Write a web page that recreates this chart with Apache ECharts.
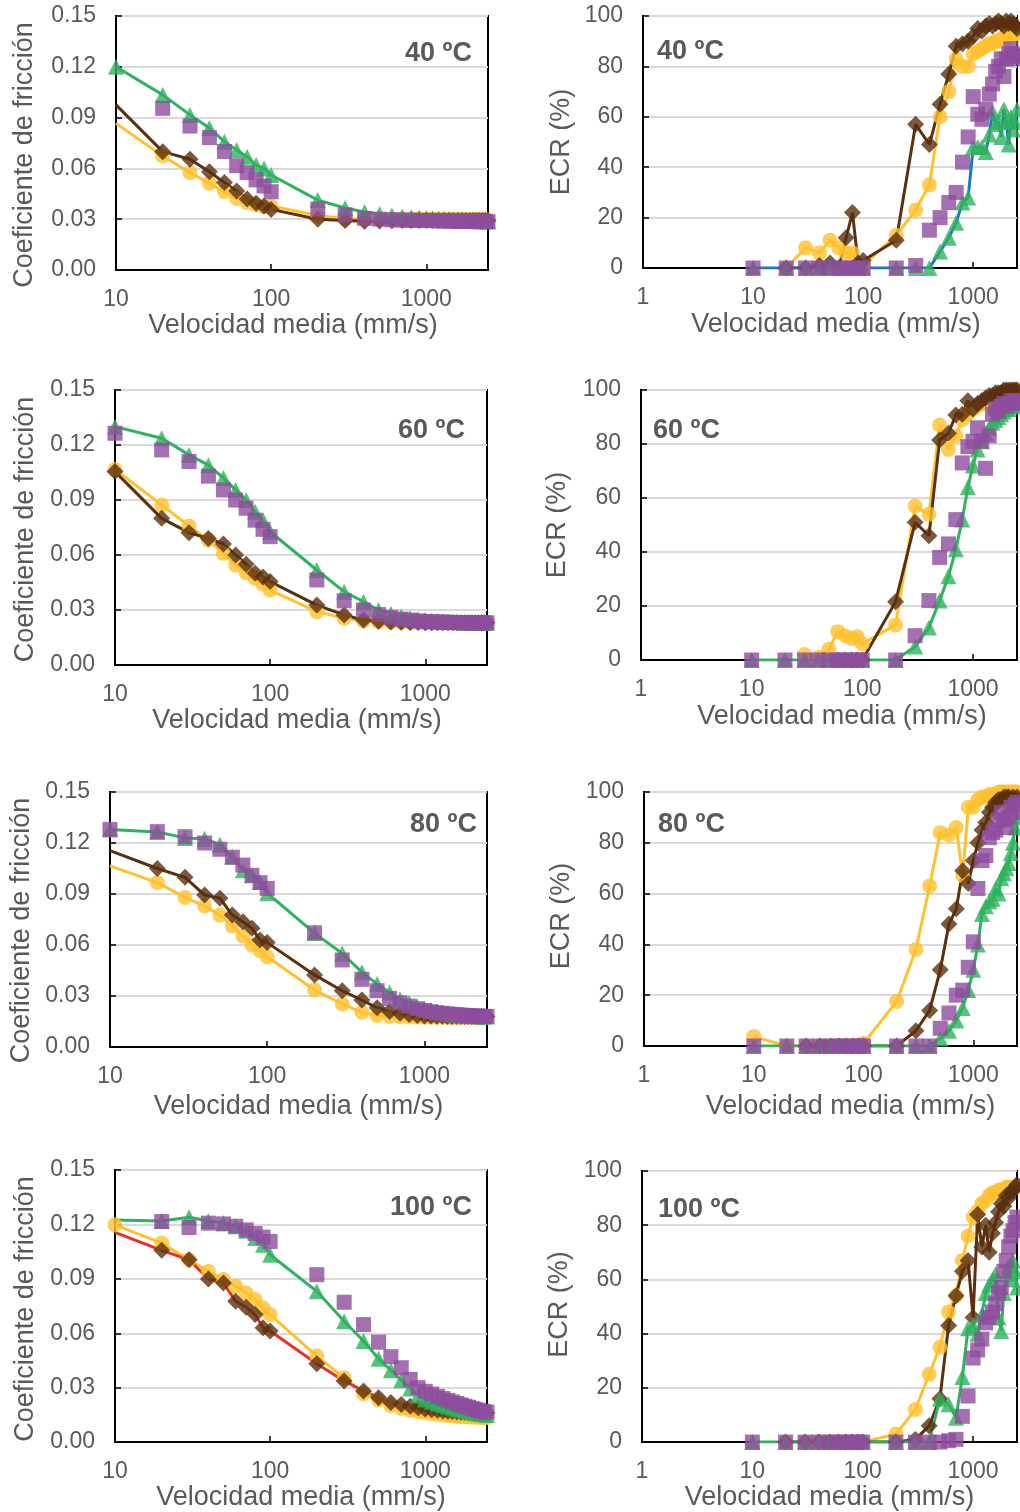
<!DOCTYPE html>
<html>
<head>
<meta charset="utf-8">
<script src="https://cdn.jsdelivr.net/npm/echarts@6/dist/echarts.min.js"></script>
<style>
  html, body { margin: 0; padding: 0; background: #fff; }
  #chart { width: 1020px; height: 1512px; }
</style>
</head>
<body>
<div id="chart"></div>
<script>
// velocidad media (mm/s), eje x comun a todos los paneles
const velocidad = [10, 20, 30, 40, 50, 60, 70, 80, 90, 100,
  200, 300, 400, 500, 600, 700, 800, 900, 1000,
  1100, 1200, 1300, 1400, 1500, 1600, 1700, 1800, 1900, 2000, 2100, 2200, 2300, 2400, 2500];

// coeficiente de friccion
const cf40Amarillo = [0.0866,0.0673,0.0575,0.0512,0.0463,0.0423,0.0398,0.0384,0.0374,0.0378, 0.0322,0.0302,0.0300,0.0301,0.0302,0.0302,0.0302,0.0302,0.0301, 0.0301,0.0300,0.0300,0.0300,0.0299,0.0299,0.0299,0.0298,0.0298,0.0298,0.0298,0.0297,0.0297,0.0297,0.0297];
const cf40Marron = [0.0975,0.0699,0.0654,0.0580,0.0516,0.0467,0.0419,0.0394,0.0378,0.0358, 0.0300,0.0292,0.0288,0.0290,0.0291,0.0292,0.0293,0.0293,0.0294, 0.0294,0.0294,0.0294,0.0294,0.0293,0.0293,0.0293,0.0293,0.0293,0.0292,0.0292,0.0292,0.0292,0.0292,0.0292];
const cf40Verde = [0.1200,0.1034,0.0916,0.0838,0.0758,0.0709,0.0669,0.0620,0.0600,0.0561, 0.0413,0.0366,0.0342,0.0330,0.0322,0.0316,0.0312,0.0309,0.0306, 0.0304,0.0302,0.0300,0.0299,0.0298,0.0297,0.0296,0.0295,0.0294,0.0293,0.0292,0.0291,0.0290,0.0289,0.0288];
const cf40Morado = [null,0.0955,0.0850,0.0782,0.0700,0.0616,0.0575,0.0532,0.0496,0.0462, 0.0360,0.0325,0.0305,0.0300,0.0297,0.0295,0.0294,0.0293,0.0292, 0.0291,0.0290,0.0290,0.0289,0.0289,0.0288,0.0288,0.0287,0.0287,0.0286,0.0286,0.0285,0.0285,0.0285,0.0285];

const cf60Amarillo = [0.1067,0.0873,0.0758,0.0682,0.0609,0.0545,0.0504,0.0473,0.0442,0.0409, 0.0291,0.0255,0.0240,0.0236,0.0234,0.0233,0.0232,0.0232,0.0231, 0.0231,0.0231,0.0230,0.0230,0.0230,0.0230,0.0230,0.0230,0.0230,0.0230,0.0230,0.0230,0.0230,0.0230,0.0230];
const cf60Marron = [0.1055,0.0800,0.0722,0.0690,0.0660,0.0600,0.0550,0.0500,0.0480,0.0455, 0.0327,0.0273,0.0245,0.0238,0.0235,0.0233,0.0232,0.0232,0.0231, 0.0231,0.0231,0.0230,0.0230,0.0230,0.0230,0.0230,0.0230,0.0230,0.0230,0.0230,0.0230,0.0230,0.0230,0.0230];
const cf60Verde = [0.1300,0.1237,0.1146,0.1090,0.1020,0.0955,0.0900,0.0836,0.0790,0.0727, 0.0518,0.0400,0.0345,0.0300,0.0280,0.0265,0.0255,0.0250,0.0245, 0.0242,0.0240,0.0238,0.0236,0.0235,0.0234,0.0233,0.0232,0.0231,0.0231,0.0230,0.0230,0.0230,0.0230,0.0230];
const cf60Morado = [0.1264,0.1173,0.1110,0.1030,0.0955,0.0900,0.0855,0.0790,0.0740,0.0700, 0.0464,0.0350,0.0300,0.0275,0.0260,0.0250,0.0245,0.0240,0.0238, 0.0236,0.0235,0.0234,0.0233,0.0232,0.0232,0.0231,0.0231,0.0230,0.0230,0.0230,0.0230,0.0230,0.0230,0.0230];

const cf80Amarillo = [0.1065,0.0967,0.0880,0.0829,0.0776,0.0712,0.0653,0.0600,0.0567,0.0531, 0.0335,0.0253,0.0204,0.0185,0.0180,0.0178,0.0177,0.0176,0.0176, 0.0175,0.0175,0.0175,0.0175,0.0175,0.0175,0.0175,0.0175,0.0175,0.0175,0.0175,0.0175,0.0175,0.0175,0.0175];
const cf80Marron = [0.1155,0.1050,0.0998,0.0894,0.0875,0.0776,0.0737,0.0698,0.0629,0.0614, 0.0424,0.0331,0.0276,0.0231,0.0209,0.0198,0.0191,0.0186,0.0183, 0.0182,0.0181,0.0181,0.0180,0.0180,0.0180,0.0180,0.0180,0.0180,0.0180,0.0180,0.0180,0.0180,0.0180,0.0180];
const cf80Verde = [0.1280,0.1265,0.1230,0.1225,0.1190,0.1120,0.1040,0.1010,0.0970,0.0905, 0.0670,0.0550,0.0440,0.0370,0.0320,0.0280,0.0260,0.0240,0.0225, 0.0215,0.0208,0.0202,0.0197,0.0193,0.0190,0.0188,0.0186,0.0184,0.0183,0.0182,0.0181,0.0180,0.0180,0.0180];
const cf80Morado = [0.1280,0.1267,0.1237,0.1200,0.1163,0.1116,0.1070,0.1010,0.0967,0.0933, 0.0672,0.0512,0.0398,0.0331,0.0286,0.0260,0.0240,0.0225,0.0215, 0.0208,0.0202,0.0198,0.0195,0.0192,0.0190,0.0188,0.0186,0.0184,0.0183,0.0182,0.0181,0.0180,0.0180,0.0180];

const cf100Amarillo = [0.1198,0.1097,0.1005,0.0941,0.0896,0.0859,0.0822,0.0786,0.0740,0.0703, 0.0474,0.0355,0.0267,0.0232,0.0201,0.0185,0.0175,0.0168,0.0162, 0.0157,0.0153,0.0150,0.0147,0.0145,0.0143,0.0141,0.0140,0.0139,0.0138,0.0137,0.0137,0.0136,0.0136,0.0135];
const cf100Marron = [0.1156,0.1057,0.1005,0.0899,0.0877,0.0776,0.0744,0.0703,0.0630,0.0612, 0.0432,0.0337,0.0282,0.0245,0.0218,0.0207,0.0198,0.0189,0.0183, 0.0178,0.0175,0.0172,0.0170,0.0168,0.0166,0.0165,0.0164,0.0163,0.0162,0.0161,0.0160,0.0160,0.0160,0.0160];
const cf100Verde = [0.1225,0.1219,0.1240,0.1219,0.1208,0.1190,0.1165,0.1125,0.1088,0.1033, 0.0831,0.0666,0.0557,0.0460,0.0396,0.0341,0.0295,0.0258,0.0235, 0.0222,0.0212,0.0203,0.0196,0.0190,0.0184,0.0178,0.0173,0.0168,0.0164,0.0160,0.0157,0.0155,0.0153,0.0150];
const cf100Morado = [null,0.1216,0.1183,0.1207,0.1203,0.1190,0.1170,0.1150,0.1130,0.1106, 0.0923,0.0771,0.0648,0.0551,0.0471,0.0410,0.0346,0.0300,0.0280, 0.0265,0.0252,0.0240,0.0230,0.0221,0.0213,0.0205,0.0198,0.0192,0.0186,0.0180,0.0175,0.0171,0.0168,0.0165];

// ECR (%)
const ecr40Amarillo = [null,0,8,6,11,8,6,6,0,1, 13,23,33,60,70,83,80,80,85, 86,87,88,89,89,90,90,91,91,92,92,92,93,93,93];
const ecr40Marron = [null,0,0,1,2,0,12,22,2,3, 11,57,49,65,77,88,89,90,92, 95,94,96,97,96,97,98,97,96,98,97,98,97,96,95];
const ecr40Verde = [0,0,0,0,0,0,0,0,0,0, 0,0,0,6.5,12,18,26,28,48, 48,48,46,53,62,57,58,52,63,58,49,60,55,58,63];
const ecr40Morado = [0,0,0,0,0,0,0,0,0,0, 0,1,15,20,26,30,42,52,68, 61,59,63,69,73,78,80,83,76,83,85,87,85,83,84];

const ecr60Amarillo = [null,null,2,1,4,10.5,9,8,8.6,6, 13,57,54,87,78,83,89,91,93, 94,95,95,96,96,97,97,98,98,98,99,99,99,100,100];
const ecr60Marron = [null,null,null,null,null,0,0,0,0,0, 21.6,51,46,81.5,84,90.7,91,96,93, 95,96,97,98,98,99,99,99,100,100,100,100,100,100,100];
const ecr60Verde = [0,0,0,0,0,0,0,0,0,0, 0,5,12,22,31,41,52,64,72, 78,81,84,86,88,89,90,91,92,93,93,94,94,95,95];
const ecr60Morado = [0,0,0,0,0,0,0,0,0,0, 0,9,22,38,43,52,73,79,81, 86,81,71,83,91,93,92,94,95,94,95,96,95,96,96];

const ecr80Amarillo = [3.7,0,0,0,0,0,0,0,0,1, 17.5,38,63,84,83,86,67,94,94, 97,98,98,99,99,99,100,100,100,100,100,100,100,100,100];
const ecr80Marron = [null,null,0,0,0,0,0,0,0,0, 0,6,14,30,48,54,69,64,73, 80,85,88,92,94,96,97,97,98,98,98,97,98,97,98];
const ecr80Verde = [0,0,0,0,0,0,0,0,0,0, 0,0,0,3,6,10,15,22,30, 40,52,55,57,58,62,60,66,68,70,72,76,80,86,90];
const ecr80Morado = [0,0,0,0,0,0,0,0,0,0, 0,0,0,7,13,20,22,31,41, 62,73,75,82,84,85,89,92,89,86,90,94,92,95,96];

const ecr100Amarillo = [null,0,0,0,0,0,0,0,0,0, 3,12,25,35,48,54,67,76,83, 85,88,89,91,92,92,93,93,93,94,94,94,94,94,94];
const ecr100Marron = [null,0,0,0,0,0,0,0,0,0, 0,1,6,16,43,54,63,67,46, 84,72,80,70,77,81,85,88,87,91,90,92,93,94,95];
const ecr100Verde = [0,0,0,0,0,0,0,0,0,0, 0,0,0,16,14,9,24,42,43, 40,47,55,58,60,62,46,41,55,62,65,60,67,63,57];
const ecr100Morado = [0,0,0,0,0,0,0,0,0,0, 0,0,0,0,0.5,1,9.5,17,31, 34,38,44,46,48,51,55,57,63,67,72,76,78,81,83];

const FONT = '"Liberation Sans", Arial, sans-serif';
const GRIS = '#595959';

const estilos = {
  amarillo: { color: '#FFC12E', symbol: 'circle', size: 15, line: true },
  marron: { color: '#5A300E', symbol: 'diamond', size: 17, line: true },
  verde: { color: '#2DB35D', symbol: 'triangle', size: 16, line: true },
  morado: { color: '#8E4C9E', symbol: 'rect', size: 15, line: false }
};
const orden = ['amarillo', 'marron', 'verde', 'morado'];

const paneles = [
  { temp: '40 ºC', tipo: 'cf', grid: [116, 16, 372, 254], label: [405, 54],
    datos: { amarillo: cf40Amarillo, marron: cf40Marron, verde: cf40Verde, morado: cf40Morado },
    sinPrimerMarcador: ['amarillo', 'marron'], xGap: 42, xShift: -9, yGap: 78, yShift: 12 },
  { temp: '40 ºC', tipo: 'ecr', grid: [643, 16, 374, 252], label: [657, 52],
    datos: { amarillo: ecr40Amarillo, marron: ecr40Marron, verde: ecr40Verde, morado: ecr40Morado },
    colorLinea: { verde: '#1F77C2' }, xGap: 43, xShift: 6, yGap: 68, yShift: 0 },
  { temp: '60 ºC', tipo: 'cf', grid: [115, 390, 372, 275], label: [398, 431],
    datos: { amarillo: cf60Amarillo, marron: cf60Marron, verde: cf60Verde, morado: cf60Morado },
    xGap: 38, xShift: -4, yGap: 76, yShift: 2 },
  { temp: '60 ºC', tipo: 'ecr', grid: [641, 390, 376, 270], label: [653, 431],
    datos: { amarillo: ecr60Amarillo, marron: ecr60Marron, verde: ecr60Verde, morado: ecr60Morado },
    xGap: 43, xShift: 13, yGap: 70, yShift: 0 },
  { temp: '80 ºC', tipo: 'cf', grid: [110, 792, 377, 255], label: [410, 825],
    datos: { amarillo: cf80Amarillo, marron: cf80Marron, verde: cf80Verde, morado: cf80Morado },
    sinPrimerMarcador: ['amarillo', 'marron'], xGap: 46, xShift: 0, yGap: 75, yShift: 11 },
  { temp: '80 ºC', tipo: 'ecr', grid: [644, 792, 373, 254], label: [658, 825],
    datos: { amarillo: ecr80Amarillo, marron: ecr80Marron, verde: ecr80Verde, morado: ecr80Morado },
    xGap: 47, xShift: 20, yGap: 69, yShift: -3 },
  { temp: '100 ºC', tipo: 'cf', grid: [115, 1170, 372, 273], label: [390, 1208],
    datos: { amarillo: cf100Amarillo, marron: cf100Marron, verde: cf100Verde, morado: cf100Morado },
    colorLinea: { marron: '#E8302A' }, sinPrimerMarcador: ['marron', 'verde'],
    xGap: 40, xShift: 0, yGap: 76, yShift: 3 },
  { temp: '100 ºC', tipo: 'ecr', grid: [642, 1171, 375, 272], label: [658, 1210],
    datos: { amarillo: ecr100Amarillo, marron: ecr100Marron, verde: ecr100Verde, morado: ecr100Morado },
    xGap: 40, xShift: 0, yGap: 69, yShift: -2 }
];

function esPotencia10(v) {
  const l = Math.log10(v);
  return Math.abs(l - Math.round(l)) < 1e-6;
}

// padding to nudge a centred axis name along its axis
function desplazar(d) {
  return d >= 0 ? [0, 0, 0, 2 * d] : [0, -2 * d, 0, 0];
}

const grids = [], xAxes = [], yAxes = [], series = [], graphics = [];

paneles.forEach((p, i) => {
  const cf = p.tipo === 'cf';
  grids.push({
    left: p.grid[0], top: p.grid[1], width: p.grid[2], height: p.grid[3],
    show: true, borderColor: '#000', borderWidth: 2, backgroundColor: '#fff'
  });
  xAxes.push({
    type: 'log', logBase: 10, gridIndex: i,
    min: cf ? 10 : 1, max: 2500,
    axisLine: { show: true, lineStyle: { color: '#000', width: 2 } },
    axisTick: { show: true, inside: true, length: 6, lineStyle: { color: '#000', width: 1.5 } },
    axisLabel: {
      color: GRIS, fontSize: 23, fontFamily: FONT, margin: 18,
      formatter: v => esPotencia10(v) ? String(Math.round(v)) : ''
    },
    splitLine: { show: false },
    minorTick: { show: false },
    name: 'Velocidad media (mm/s)', nameLocation: 'middle', nameGap: p.xGap,
    nameTextStyle: { color: GRIS, fontSize: 27, fontFamily: FONT, padding: desplazar(p.xShift) }
  });
  yAxes.push({
    type: 'value', gridIndex: i,
    min: 0, max: cf ? 0.15 : 100, interval: cf ? 0.03 : 20,
    axisLine: { show: true, lineStyle: { color: '#000', width: 2 } },
    axisTick: { show: true, inside: true, length: 6, lineStyle: { color: '#000', width: 1.5 } },
    axisLabel: {
      color: GRIS, fontSize: 23, fontFamily: FONT, margin: 20,
      formatter: v => cf ? v.toFixed(2) : String(Math.round(v))
    },
    splitLine: { show: true, lineStyle: { color: '#d9d9d9', width: 2 } },
    name: cf ? 'Coeficiente de fricción' : 'ECR (%)',
    nameLocation: 'middle', nameGap: p.yGap,
    nameTextStyle: { color: GRIS, fontSize: 27, fontFamily: FONT, padding: desplazar(-p.yShift) }
  });

  orden.forEach((k, j) => {
    const est = estilos[k];
    const valores = p.datos[k];
    const pares = [];
    valores.forEach((v, n) => { if (v !== null) pares.push([velocidad[n], v]); });
    if (est.line) {
      series.push({
        type: 'line', xAxisIndex: i, yAxisIndex: i, data: pares,
        showSymbol: false, symbol: 'none', silent: true, animation: false,
        lineStyle: { color: (p.colorLinea && p.colorLinea[k]) || est.color, width: 3 },
        z: 2
      });
    }
    const ocultar = p.sinPrimerMarcador && p.sinPrimerMarcador.includes(k);
    series.push({
      type: 'scatter', xAxisIndex: i, yAxisIndex: i,
      data: ocultar ? pares.slice(1) : pares,
      symbol: est.symbol, symbolSize: est.size,
      itemStyle: { color: est.color },
      silent: true, animation: false,
      z: 3 + j
    });
  });

  graphics.push({
    type: 'text', x: p.label[0], y: p.label[1],
    style: { text: p.temp, font: 'bold 27px ' + FONT, fill: GRIS, verticalAlign: 'middle' },
    z: 100
  });
});

const chart = echarts.init(document.getElementById('chart'), null, { renderer: 'canvas' });
chart.setOption({
  animation: false,
  backgroundColor: '#fff',
  grid: grids,
  xAxis: xAxes,
  yAxis: yAxes,
  series: series,
  graphic: graphics
});
</script>
</body>
</html>
